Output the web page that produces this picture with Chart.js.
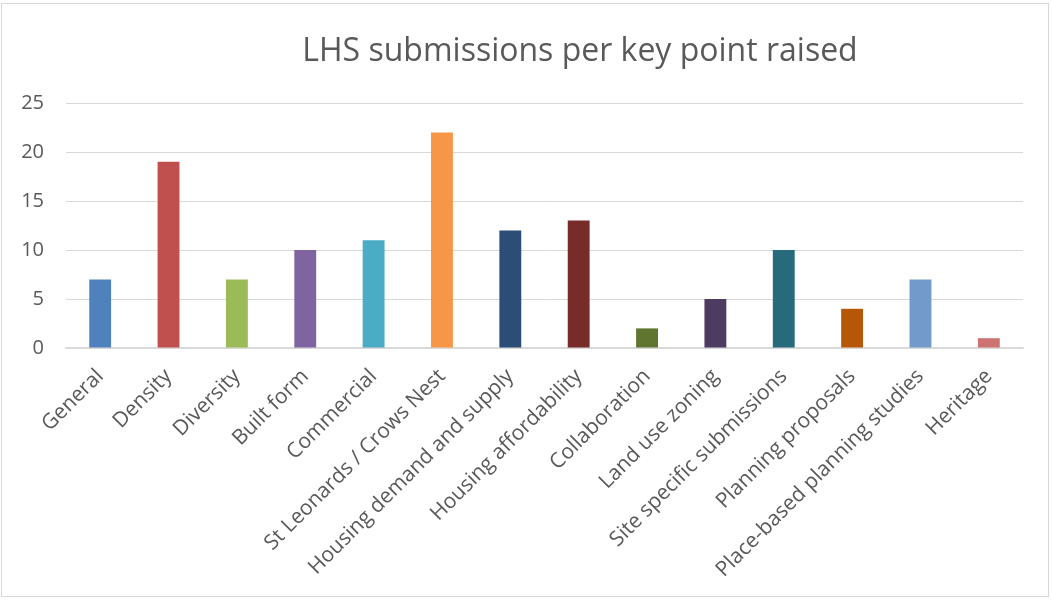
<!DOCTYPE html>
<html>
<head>
<meta charset="utf-8">
<script src="https://cdn.jsdelivr.net/npm/chart.js@4/dist/chart.umd.min.js"></script>
<style>
  html, body { margin: 0; padding: 0; background: #ffffff; }
  #wrap { position: relative; width: 1052px; height: 600px; overflow: hidden; background: #fff; }
  #frame { position: absolute; left: 1px; top: 3px; width: 1048px; height: 594px; border: 1.5px solid #d9d9d9; box-sizing: border-box; }
  #title { position: absolute; left: 0; width: 1160px; top: 27px; text-align: center; font-family: "Open Sans", sans-serif; font-size: 32px; color: #595959; white-space: nowrap; }
  canvas { position: absolute; left: 0; top: 0; }
</style>
</head>
<body>
<div id="wrap">
  <div id="frame"></div>
  <canvas id="c" width="1052" height="600"></canvas>
  <div id="title">LHS submissions per key point raised</div>
</div>
<script>
const categories = ["General", "Density", "Diversity", "Built form", "Commercial", "St Leonards / Crows Nest", "Housing demand and supply", "Housing affordability", "Collaboration", "Land use zoning", "Site specific submissions", "Planning proposals", "Place-based planning studies", "Heritage"];
const submissions = [7, 19, 7, 10, 11, 22, 12, 13, 2, 5, 10, 4, 7, 1];
const barColors = ["#4F81BD", "#C0504D", "#9BBB59", "#8064A2", "#4BACC6", "#F79646", "#2C4D75", "#772C2A", "#5F7530", "#4D3B62", "#276A7C", "#B65708", "#729ACA", "#CD7371"];
const yTicks = [0, 5, 10, 15, 20, 25];

new Chart(document.getElementById('c'), {
  type: 'bar',
  data: {
    labels: categories,
    datasets: [{
      data: submissions,
      backgroundColor: barColors,
      borderWidth: 0,
      barPercentage: 0.32,
      categoryPercentage: 1.0
    }]
  },
  options: {
    responsive: false,
    devicePixelRatio: 1,
    animation: false,
    layout: { padding: { top: 103, left: 0, right: 29, bottom: 0 } },
    plugins: { legend: { display: false }, title: { display: false }, tooltip: { enabled: false } },
    scales: {
      y: {
        min: 0, max: 25,
        afterBuildTicks: (scale) => { scale.ticks = yTicks.map(v => ({ value: v })); },
        afterFit: (scale) => { scale.width = 66; },
        ticks: { color: '#595959', font: { family: 'Open Sans', size: 20 }, padding: 22 },
        grid: { color: '#d9d9d9', lineWidth: 1, drawTicks: false },
        border: { display: false }
      },
      x: {
        afterFit: (scale) => { scale.height = 252; },
        ticks: { color: '#595959', font: { family: 'Open Sans', size: 21 }, minRotation: 45, maxRotation: 45, autoSkip: false, padding: 16 },
        grid: { display: false, drawTicks: false },
        border: { display: true, color: '#d9d9d9', width: 1.5 }
      }
    }
  }
});
</script>
</body>
</html>
